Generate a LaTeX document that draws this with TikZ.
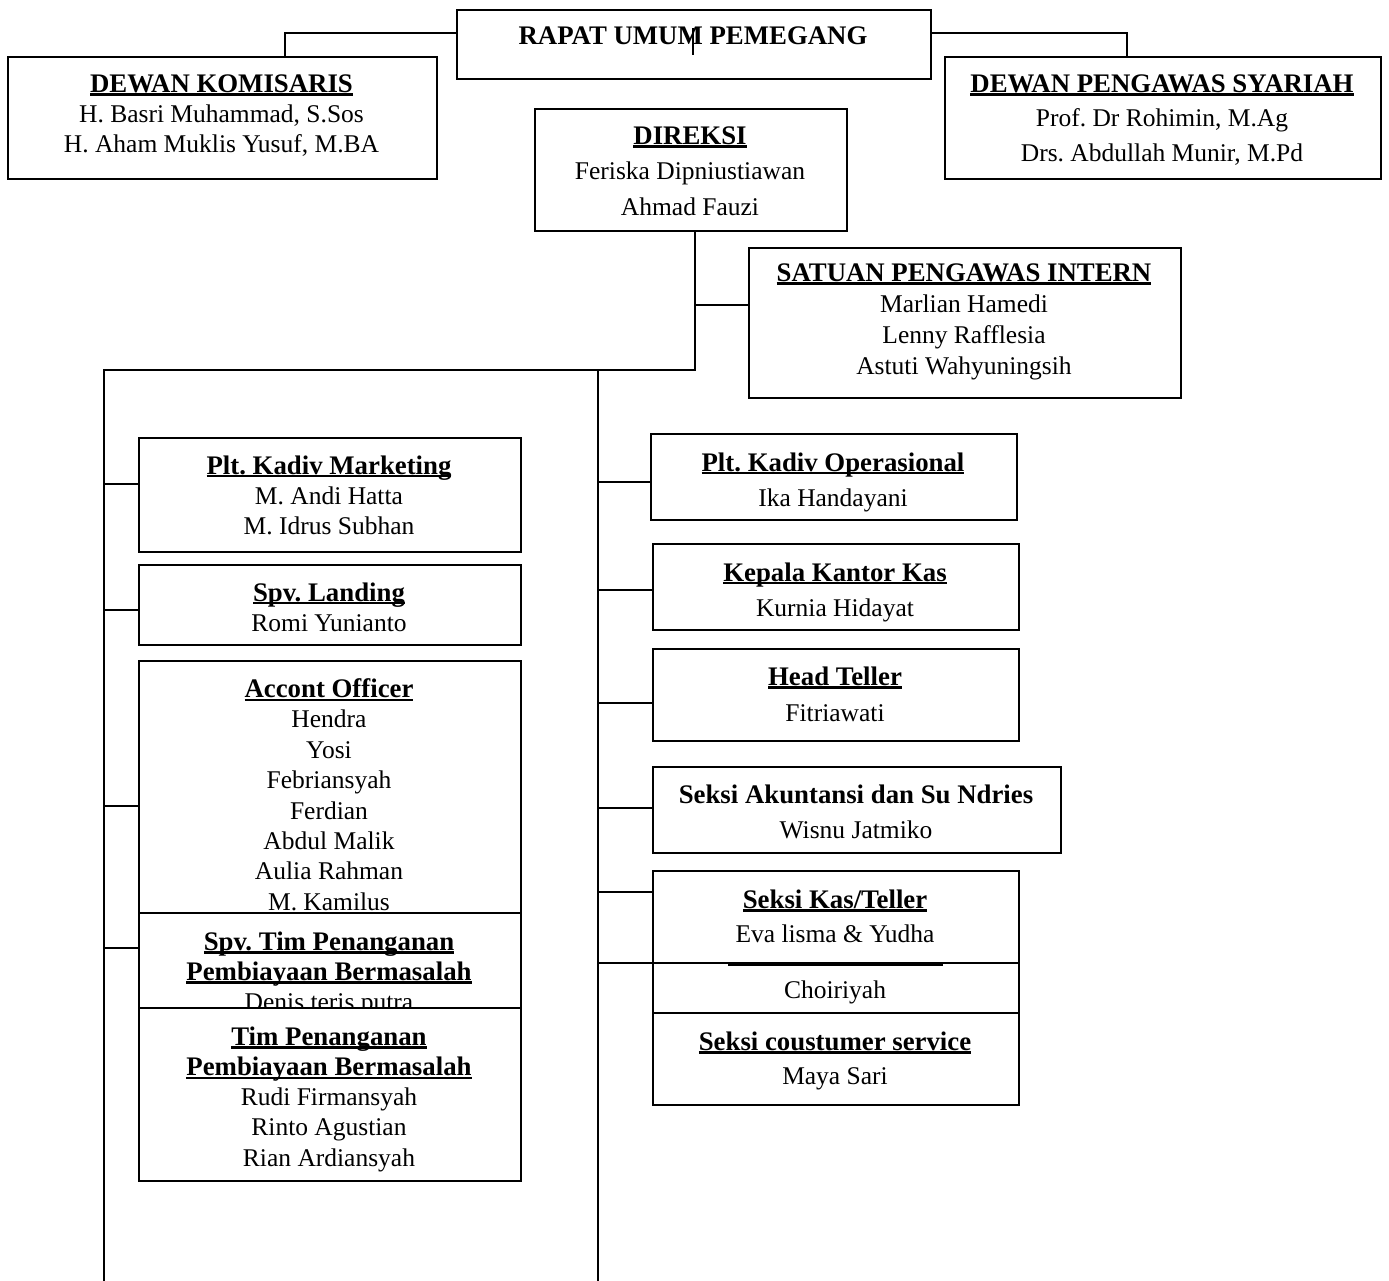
\documentclass[tikz,border=0pt]{standalone}
\usepackage{fontspec}
\setmainfont{Liberation Serif}
\frenchspacing
\newsavebox\ulbox
\newcommand{\bt}[1]{\hbox{\fontsize{26.8}{30}\selectfont\bfseries #1}}
\newcommand{\ulx}[1]{\sbox\ulbox{\bt{#1}}\rlap{\rule[-3.2pt]{\wd\ulbox}{2.2pt}}\usebox\ulbox}
\newcommand{\fs}[1]{\fontsize{25.5}{#1}\selectfont\frenchspacing}
\tikzset{
  box/.style={draw, line width=1.6pt, fill=white, inner sep=0pt, rectangle, anchor=north west},
  txt/.style={inner sep=0pt, align=center, anchor=north},
  conn/.style={line width=1.5pt}
}
\begin{document}
\begin{tikzpicture}[x=1pt,y=-1pt]
\useasboundingbox (0,0) rectangle (1389,1281);
% ---- top level
\node[box, minimum width=474pt, minimum height=69pt] (rapat) at (456,9) {};
\node[txt, font=\fs{30}] (rapatt) at (693,27) {\bt{RAPAT UMUM PEMEGANG}};
\coordinate (mk1) at (693,28);
\coordinate (mk2) at (693,55);
\draw[line width=1.2pt] (mk1) -- (mk2);

\node[box, minimum width=429pt, minimum height=122pt] (dk) at (7,56) {};
\node[txt, font=\fs{30}] (dkt) at (221.5,74.5) {\ulx{DEWAN KOMISARIS}\\H. Basri Muhammad, S.Sos\\H. Aham Muklis Yusuf, M.BA};

\node[box, minimum width=436pt, minimum height=122pt] (dps) at (944,56) {};
\node[txt, font=\fs{34.5}] (dpst) at (1162,74.5) {\ulx{DEWAN PENGAWAS SYARIAH}\\Prof. Dr Rohimin, M.Ag\\Drs. Abdullah Munir, M.Pd};

\coordinate (RL) at (285,33);
\coordinate (RR) at (1127,33);
\draw[conn] (rapat.west |- RL) -- (RL) -- (RL |- dk.north);
\draw[conn] (rapat.east |- RR) -- (RR) -- (RR |- dps.north);

\node[box, minimum width=312pt, minimum height=122pt] (dir) at (534,108) {};
\node[txt, font=\fs{35.5}] (dirt) at (690,126.5) {\ulx{DIREKSI}\\Feriska Dipniustiawan\\Ahmad Fauzi};

\node[box, minimum width=432pt, minimum height=150pt] (spi) at (748,247) {};
\node[txt, font=\fs{31}] (spit) at (964,263.5) {\ulx{SATUAN PENGAWAS INTERN}\\Marlian Hamedi\\Lenny Rafflesia\\Astuti Wahyuningsih};

% ---- trunk
\coordinate (T0) at (695,370);
\coordinate (TL) at (104,370);
\coordinate (TR) at (598,370);
\coordinate (BL) at (104,1281);
\coordinate (BR) at (598,1281);
\coordinate (S0) at (695,305);
\draw[conn] (dir.south -| T0) -- (T0) -- (TL) -- (BL);
\draw[conn] (TR) -- (BR);
\draw[conn] (S0) -- (S0 -| spi.west);

% ---- left column
\node[box, minimum width=382pt, minimum height=114pt] (mkt) at (138,437) {};
\node[txt, font=\fs{30}] (mktt) at (329,455.5) {\ulx{Plt. Kadiv Marketing}\\M. Andi Hatta\\M. Idrus Subhan};

\node[box, minimum width=382pt, minimum height=80pt] (lnd) at (138,564) {};
\node[txt, font=\fs{30}] (lndt) at (329,582.5) {\ulx{Spv. Landing}\\Romi Yunianto};

\node[box, minimum width=382pt, minimum height=280pt] (ao) at (138,660) {};
\node[txt, font=\fs{30.4}] (aot) at (329,678.5) {\ulx{Accont Officer}\\Hendra\\Yosi\\Febriansyah\\Ferdian\\Abdul Malik\\Aulia Rahman\\M. Kamilus};

\node[box, minimum width=382pt, minimum height=118pt] (spv) at (138,912) {};
\node[txt, font=\fs{30}] (spvt) at (329,931.5) {\ulx{Spv. Tim Penanganan}\\\ulx{Pembiayaan Bermasalah}\\Denis teris putra};

\node[box, minimum width=382pt, minimum height=173pt] (tim) at (138,1007) {};
\node[txt, font=\fs{30.2}] (timt) at (329,1026.5) {\ulx{Tim Penanganan}\\\ulx{Pembiayaan Bermasalah}\\Rudi Firmansyah\\Rinto Agustian\\Rian Ardiansyah};

\foreach \yy/\nm in {484/mkt, 610/lnd, 806/ao, 948/spv}{
  \coordinate (L\nm) at (104,\yy);
  \draw[conn] (L\nm) -- (L\nm -| \nm.west);
}

% ---- right column
\node[box, minimum width=366pt, minimum height=86pt] (ops) at (650,433) {};
\node[txt, font=\fs{35}] (opst) at (833,452.5) {\ulx{Plt. Kadiv Operasional}\\Ika Handayani};

\node[box, minimum width=366pt, minimum height=86pt] (kkk) at (652,543) {};
\node[txt, font=\fs{35}] (kkkt) at (835,562.5) {\ulx{Kepala Kantor Kas}\\Kurnia Hidayat};

\node[box, minimum width=366pt, minimum height=92pt] (ht) at (652,648) {};
\node[txt, font=\fs{36}] (htt) at (835,666.5) {\ulx{Head Teller}\\Fitriawati};

\node[box, minimum width=408pt, minimum height=86pt] (akn) at (652,766) {};
\node[txt, font=\fs{35}] (aknt) at (856,784.5) {\bt{Seksi Akuntansi dan Su Ndries}\\Wisnu Jatmiko};

\node[box, minimum width=366pt, minimum height=112pt] (hid) at (652,900) {};
\node[txt, font=\fs{30}] (hidt) at (835,981) {Choiriyah};
\coordinate (U1) at (728,964.5);
\coordinate (U2) at (943,964.5);

\node[box, minimum width=366pt, minimum height=92pt] (kas) at (652,870) {};
\node[txt, font=\fs{34}] (kast) at (835,889.5) {\ulx{Seksi Kas/Teller}\\Eva lisma \& Yudha};
\draw[line width=2.2pt] (U1) -- (U2);

\node[box, minimum width=366pt, minimum height=92pt] (cs) at (652,1012) {};
\node[txt, font=\fs{34}] (cst) at (835,1031.5) {\ulx{Seksi coustumer service}\\Maya Sari};

\foreach \yy/\nm in {482/ops, 590/kkk, 703/ht, 808/akn, 892/kas, 963/hid}{
  \coordinate (R\nm) at (598,\yy);
  \draw[conn] (R\nm) -- (R\nm -| \nm.west);
}
\end{tikzpicture}
\end{document}
